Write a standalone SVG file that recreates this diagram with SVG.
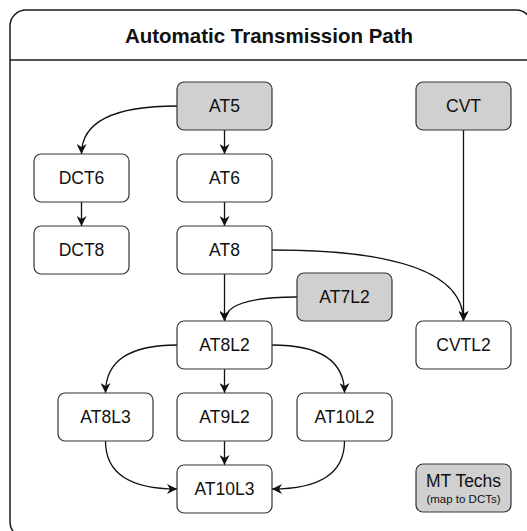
<svg xmlns="http://www.w3.org/2000/svg" width="527" height="531" viewBox="0 0 527 531">
<style>
.c{fill:#fff;stroke:#1a1a1a;stroke-width:1.5}
.n rect{fill:#fff;stroke:#333;stroke-width:1.2}
.g rect{fill:#d0d0d0}
.n text{font-family:"Liberation Sans",Arial,sans-serif;font-size:17.5px;fill:#111;text-anchor:middle}
.t{font-family:"Liberation Sans",Arial,sans-serif;font-size:20.5px;font-weight:bold;fill:#111;text-anchor:middle}
.e path{fill:none;stroke:#111;stroke-width:1.3;marker-end:url(#a)}
</style>
<defs>
<marker id="a" markerUnits="userSpaceOnUse" viewBox="0 0 10 10" markerWidth="10" markerHeight="10" refX="10" refY="5" orient="auto">
<path d="M0,0 L10,5 L0,10 L3,5 Z" fill="#111"/>
</marker>
</defs>
<g id="container">
<rect class="c" x="10" y="10" width="522" height="528" rx="16"/>
<line x1="10" y1="60" x2="532" y2="60" stroke="#1a1a1a" stroke-width="1.5"/>
<text class="t" x="269" y="43">Automatic Transmission Path</text>
</g>
<g id="edges" class="e">
<path d="M177,106 Q81.5,106 81.5,154"/>
<path d="M224.5,130 L224.5,154"/>
<path d="M81.5,202 L81.5,226"/>
<path d="M224.5,202 L224.5,226"/>
<path d="M272,250 Q463.5,250 463.5,321"/>
<path d="M463.5,130 L463.5,321"/>
<path d="M224.5,274 L224.5,321"/>
<path d="M297,297 Q224.5,297 224.5,321"/>
<path d="M177,345 Q105.5,345 105.5,393"/>
<path d="M224.5,369 L224.5,393"/>
<path d="M272,345 Q344.5,345 344.5,393"/>
<path d="M224.5,441 L224.5,465"/>
<path d="M105.5,441 Q105.5,489 177,489"/>
<path d="M344.5,441 Q344.5,489 272,489"/>
</g>
<g id="AT5" class="n g"><rect x="177" y="82" width="95" height="48" rx="7"/><text x="224.5" y="112.3">AT5</text></g>
<g id="CVT" class="n g"><rect x="416" y="82" width="95" height="48" rx="7"/><text x="463.5" y="112.3">CVT</text></g>
<g id="DCT6" class="n"><rect x="34" y="154" width="95" height="48" rx="7"/><text x="81.5" y="184.3">DCT6</text></g>
<g id="AT6" class="n"><rect x="177" y="154" width="95" height="48" rx="7"/><text x="224.5" y="184.3">AT6</text></g>
<g id="DCT8" class="n"><rect x="34" y="226" width="95" height="48" rx="7"/><text x="81.5" y="256.3">DCT8</text></g>
<g id="AT8" class="n"><rect x="177" y="226" width="95" height="48" rx="7"/><text x="224.5" y="256.3">AT8</text></g>
<g id="AT7L2" class="n g"><rect x="297" y="273" width="95" height="48" rx="7"/><text x="344.5" y="303.3">AT7L2</text></g>
<g id="AT8L2" class="n"><rect x="177" y="321" width="95" height="48" rx="7"/><text x="224.5" y="351.3">AT8L2</text></g>
<g id="CVTL2" class="n"><rect x="416" y="321" width="95" height="48" rx="7"/><text x="463.5" y="351.3">CVTL2</text></g>
<g id="AT8L3" class="n"><rect x="58" y="393" width="95" height="48" rx="7"/><text x="105.5" y="423.3">AT8L3</text></g>
<g id="AT9L2" class="n"><rect x="177" y="393" width="95" height="48" rx="7"/><text x="224.5" y="423.3">AT9L2</text></g>
<g id="AT10L2" class="n"><rect x="297" y="393" width="95" height="48" rx="7"/><text x="344.5" y="423.3">AT10L2</text></g>
<g id="AT10L3" class="n"><rect x="177" y="465" width="95" height="48" rx="7"/><text x="224.5" y="495.3">AT10L3</text></g>
<g id="MTTechs" class="n g"><rect x="416" y="464" width="95" height="48" rx="7"/><text x="463.5" y="486.7">MT Techs</text><text x="463.5" y="503.3" style="font-size:11.5px">(map to DCTs)</text></g>
</svg>
